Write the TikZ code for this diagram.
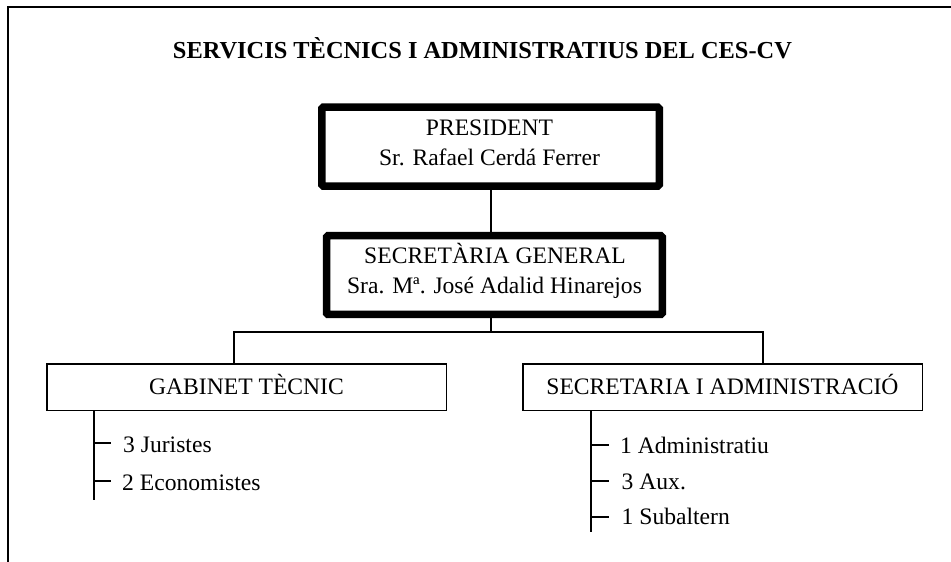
\documentclass[tikz,border=0pt]{standalone}
\usepackage{fontspec}
\setmainfont{Liberation Serif}
\begin{document}
\begin{tikzpicture}[x=1pt,y=-1pt,
  body/.style={font=\fontsize{23.6}{28}\selectfont, inner sep=0pt},
  thickbox/.style={draw, line width=7.5pt, rounded corners=1.5pt, rectangle, inner sep=0pt},
  thinbox/.style={draw, line width=1.5pt, rectangle, inner sep=0pt, minimum width=399.5pt, minimum height=46.5pt,
    font=\fontsize{23.6}{28}\selectfont, text height=15.6pt, text depth=0pt},
  conn/.style={line width=1.3pt},
  listline/.style={line width=1.7pt},
  frame/.style={line width=2.2pt}]
\useasboundingbox (0,0) rectangle (951,562);
% frame
\coordinate (fa) at (8,562);
\coordinate (fb) at (8,7);
\coordinate (fc) at (951,7);
\draw[frame] (fa) -- (fb) -- (fc);
% title
\node[anchor=base, inner sep=0pt, font=\bfseries\fontsize{24.4}{28}\selectfont] (title) at (482.5,58) {SERVICIS TÈCNICS I ADMINISTRATIUS DEL CES-CV};
% president
\node[thickbox, minimum width=337.5pt, minimum height=79pt] (pres) at (490.5,146.6) {};
\node[body, anchor=base] (presa) at (489.5,135) {PRESIDENT};
\node[body, anchor=base] (presb) at (489.5,165) {Sr. Rafael Cerdá Ferrer};
% secretaria general
\node[thickbox, minimum width=335.75pt, minimum height=78.75pt] (sec) at (494.4,275.1) {};
\node[body, anchor=base] (seca) at (495,263) {SECRETÀRIA GENERAL};
\node[body, anchor=base] (secb) at (494.5,293) {Sra. Mª. José Adalid Hinarejos};
% connector president -> secretaria
\coordinate (jm) at (491,332);
\draw[conn] (jm |- pres.south) -- (jm |- sec.north);
% lower boxes
\node[thinbox] (gab) at (246.5,387) {GABINET TÈCNIC};
\node[thinbox] (adm) at (722.5,387) {SECRETARIA I ADMINISTRACIÓ};
\coordinate (jl) at (234,332);
\coordinate (jr) at (763,332);
\draw[conn] (jm |- sec.south) -- (jm);
\draw[conn] (jl |- gab.north) -- (jl) -- (jr) -- (jr |- adm.north);
% gabinet list
\coordinate (gx) at (94,500);
\draw[listline] (gx |- gab.south) -- (gx);
\coordinate (g1) at (94,443);
\coordinate (g1e) at (111,443);
\coordinate (g2) at (94,481);
\coordinate (g2e) at (111,481);
\draw[listline] (g1) -- (g1e);
\draw[listline] (g2) -- (g2e);
\node[body, anchor=base west] (gt1) at (123,452) {3 Juristes};
\node[body, anchor=base west] (gt2) at (122,490) {2 Economistes};
% secretaria list
\coordinate (ax) at (591,532);
\draw[listline] (ax |- adm.south) -- (ax);
\coordinate (a1) at (591,445);
\coordinate (a1e) at (609,445);
\coordinate (a2) at (591,481);
\coordinate (a2e) at (609,481);
\coordinate (a3) at (591,517);
\coordinate (a3e) at (609,517);
\draw[listline] (a1) -- (a1e);
\draw[listline] (a2) -- (a2e);
\draw[listline] (a3) -- (a3e);
\node[body, anchor=base west] (at1) at (620,453) {1 Administratiu};
\node[body, anchor=base west] (at2) at (621.5,489) {3 Aux.};
\node[body, anchor=base west] (at3) at (621.5,524) {1 Subaltern};
\end{tikzpicture}
\end{document}
